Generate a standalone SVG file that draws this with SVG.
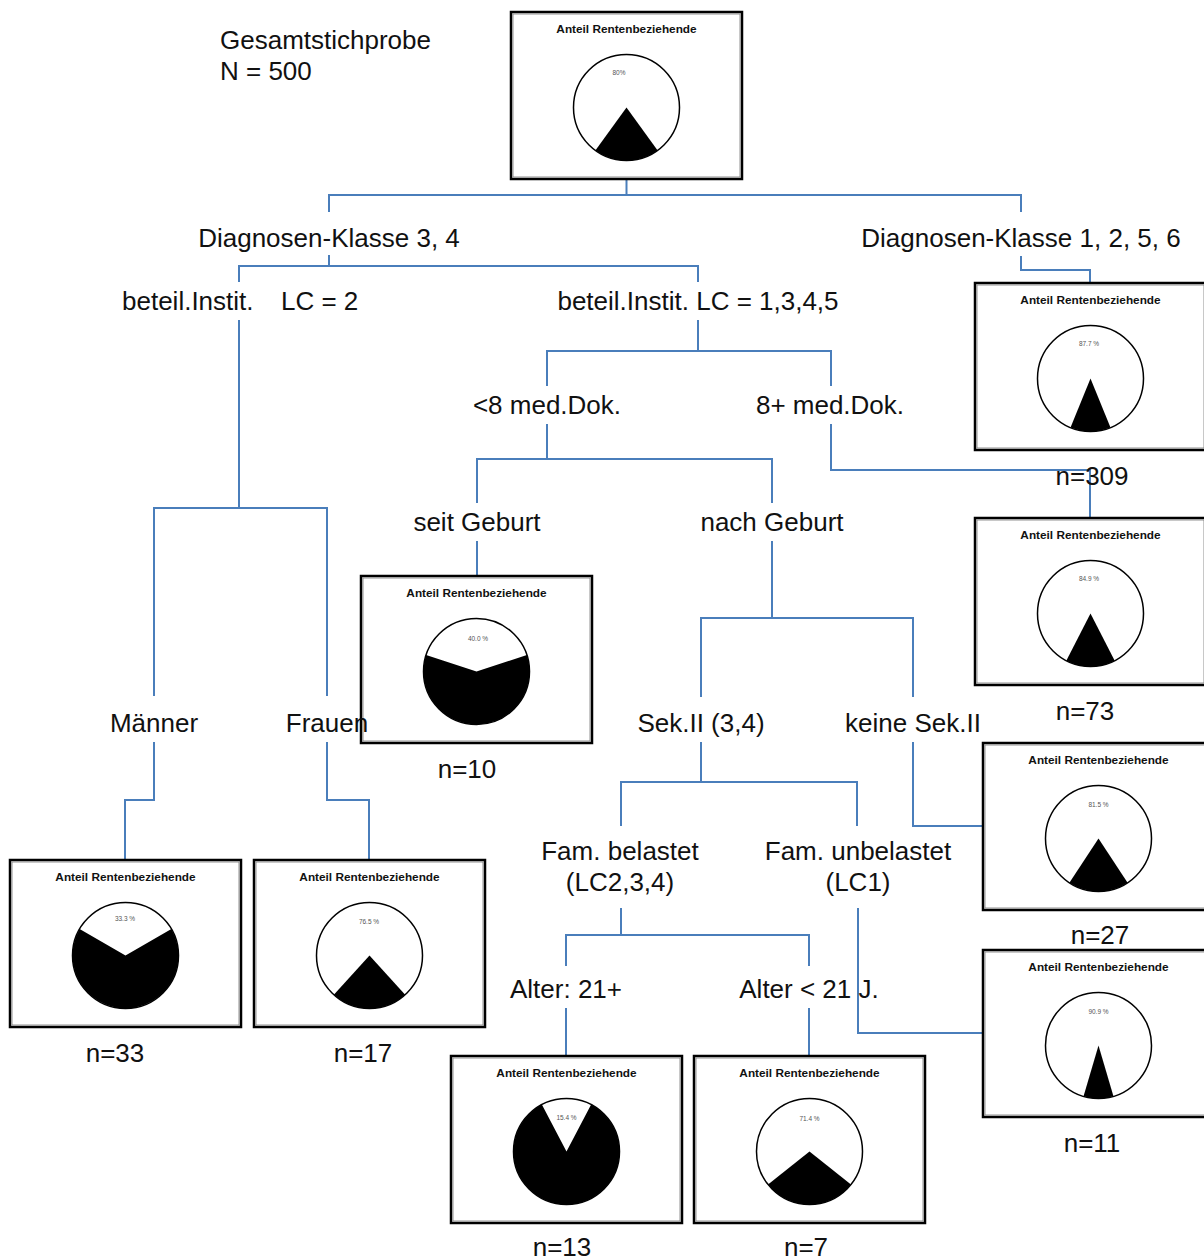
<svg xmlns="http://www.w3.org/2000/svg" width="1204" height="1260" viewBox="0 0 1204 1260">
<style>
.lbl{font-family:"Liberation Sans",Arial,sans-serif;font-size:26px;fill:#111;text-anchor:middle}
.lbl-l{font-family:"Liberation Sans",Arial,sans-serif;font-size:26px;fill:#111}
.ttl{font-family:"Liberation Sans",Arial,sans-serif;font-size:11.8px;font-weight:bold;fill:#111;text-anchor:middle}
.pct{font-family:"Liberation Sans",Arial,sans-serif;font-size:6.5px;fill:#555;text-anchor:middle}
.frame{fill:#fff;stroke:#000;stroke-width:2.5}
.inner{fill:none;stroke:#777;stroke-width:0.8}
.pie{fill:#fff;stroke:#000;stroke-width:1.5}
.slice{fill:#000}
.con{fill:none;stroke:#4a7ebb;stroke-width:2}
</style>
<defs>
<g id="boxbase">
<rect class="frame" x="0" y="0" width="231" height="167"/>
<rect class="inner" x="2" y="2" width="227" height="163"/>
<text class="ttl" x="115.5" y="21">Anteil Rentenbeziehende</text>
<circle class="pie" cx="115.5" cy="95.5" r="53"/>
</g>
</defs>

<g id="connectors">
<polyline class="con" points="626.5,180 626.5,195"/>
<polyline class="con" points="329,212 329,195 1021,195 1021,212"/>
<polyline class="con" points="329,255 329,266"/>
<polyline class="con" points="239,282 239,266 698,266 698,282"/>
<polyline class="con" points="1021,256 1021,270 1090,270 1090,283"/>
<polyline class="con" points="239,320 239,508"/>
<polyline class="con" points="154,696 154,508 327,508 327,696"/>
<polyline class="con" points="698,320 698,351"/>
<polyline class="con" points="547,386 547,351 831,351 831,386"/>
<polyline class="con" points="547,424 547,459"/>
<polyline class="con" points="477,503 477,459 772,459 772,503"/>
<polyline class="con" points="831,424 831,470 1090,470 1090,518"/>
<polyline class="con" points="477,541 477,576"/>
<polyline class="con" points="772,541 772,618"/>
<polyline class="con" points="701,697 701,618 913,618 913,697"/>
<polyline class="con" points="154,742 154,800 125,800 125,860"/>
<polyline class="con" points="327,742 327,800 369,800 369,860"/>
<polyline class="con" points="701,742 701,782"/>
<polyline class="con" points="621,826 621,782 857,782 857,826"/>
<polyline class="con" points="913,742 913,826 983,826"/>
<polyline class="con" points="621,908 621,935"/>
<polyline class="con" points="566,966 566,935 809,935 809,966"/>
<polyline class="con" points="858,908 858,1033 983,1033"/>
<polyline class="con" points="566,1008 566,1056"/>
<polyline class="con" points="809,1008 809,1056"/>
</g>

<g id="node-total" transform="translate(511,12)">
<use href="#boxbase"/>
<path class="slice" d="M115.5,95.5 L84.35,138.38 A53,53 0 0 0 146.65,138.38 Z"/>
<text class="pct" x="108" y="63">80%</text>
</g>

<g id="node-dk1256" transform="translate(975,283)">
<use href="#boxbase"/>
<path class="slice" d="M115.5,95.5 L95.52,144.59 A53,53 0 0 0 135.48,144.59 Z"/>
<text class="pct" x="114" y="63">87.7 %</text>
</g>

<g id="node-8plus" transform="translate(975,518)">
<use href="#boxbase"/>
<path class="slice" d="M115.5,95.5 L91.29,142.65 A53,53 0 0 0 139.71,142.65 Z"/>
<text class="pct" x="114" y="63">84.9 %</text>
</g>

<g id="node-keinesek" transform="translate(983,743)">
<use href="#boxbase"/>
<path class="slice" d="M115.5,95.5 L86.40,139.80 A53,53 0 0 0 144.60,139.80 Z"/>
<text class="pct" x="115.5" y="64">81.5 %</text>
</g>

<g id="node-unbelastet" transform="translate(983,950)">
<use href="#boxbase"/>
<path class="slice" d="M115.5,95.5 L100.55,146.35 A53,53 0 0 0 130.45,146.35 Z"/>
<text class="pct" x="115.5" y="64">90.9 %</text>
</g>

<g id="node-seitgeburt" transform="translate(361,576)">
<use href="#boxbase"/>
<path class="slice" d="M115.5,95.5 L65.09,79.12 A53,53 0 1 0 165.91,79.12 Z"/>
<text class="pct" x="117" y="65">40.0 %</text>
</g>

<g id="node-maenner" transform="translate(10,860)">
<use href="#boxbase"/>
<path class="slice" d="M115.5,95.5 L69.63,68.95 A53,53 0 1 0 161.37,68.95 Z"/>
<text class="pct" x="115" y="61">33.3 %</text>
</g>

<g id="node-frauen" transform="translate(254,860)">
<use href="#boxbase"/>
<path class="slice" d="M115.5,95.5 L79.83,134.70 A53,53 0 0 0 151.17,134.70 Z"/>
<text class="pct" x="115" y="64">76.5 %</text>
</g>

<g id="node-alter21plus" transform="translate(451,1056)">
<use href="#boxbase"/>
<path class="slice" d="M115.5,95.5 L90.85,48.58 A53,53 0 1 0 140.15,48.58 Z"/>
<text class="pct" x="115.5" y="64">15.4 %</text>
</g>

<g id="node-alterunter21" transform="translate(694,1056)">
<use href="#boxbase"/>
<path class="slice" d="M115.5,95.5 L74.02,128.49 A53,53 0 0 0 156.98,128.49 Z"/>
<text class="pct" x="115.5" y="65">71.4 %</text>
</g>

<g id="header">
<text class="lbl-l" x="220" y="49">Gesamtstichprobe</text>
<text class="lbl-l" x="220" y="80">N = 500</text>
</g>

<g id="labels">
<text class="lbl" x="329" y="247">Diagnosen-Klasse 3, 4</text>
<text class="lbl" x="1021" y="247">Diagnosen-Klasse 1, 2, 5, 6</text>
<text class="lbl-l" x="122" y="310">beteil.Instit.</text>
<text class="lbl-l" x="281" y="310">LC = 2</text>
<text class="lbl" x="698" y="310">beteil.Instit. LC = 1,3,4,5</text>
<text class="lbl" x="547" y="414">&lt;8 med.Dok.</text>
<text class="lbl" x="830" y="414">8+ med.Dok.</text>
<text class="lbl" x="477" y="531">seit Geburt</text>
<text class="lbl" x="772" y="531">nach Geburt</text>
<text class="lbl" x="154" y="732">Männer</text>
<text class="lbl" x="327" y="732">Frauen</text>
<text class="lbl" x="701" y="732">Sek.II (3,4)</text>
<text class="lbl" x="913" y="732">keine Sek.II</text>
<text class="lbl" x="620" y="860">Fam. belastet</text>
<text class="lbl" x="620" y="891">(LC2,3,4)</text>
<text class="lbl" x="858" y="860">Fam. unbelastet</text>
<text class="lbl" x="858" y="891">(LC1)</text>
<text class="lbl" x="566" y="998">Alter: 21+</text>
<text class="lbl" x="809" y="998">Alter &lt; 21 J.</text>
</g>

<g id="counts">
<text class="lbl" x="1092" y="485">n=309</text>
<text class="lbl" x="1085" y="720">n=73</text>
<text class="lbl" x="467" y="778">n=10</text>
<text class="lbl" x="1100" y="944">n=27</text>
<text class="lbl" x="115" y="1062">n=33</text>
<text class="lbl" x="363" y="1062">n=17</text>
<text class="lbl" x="1092" y="1152">n=11</text>
<text class="lbl" x="562" y="1256">n=13</text>
<text class="lbl" x="806" y="1256">n=7</text>
</g>
</svg>
